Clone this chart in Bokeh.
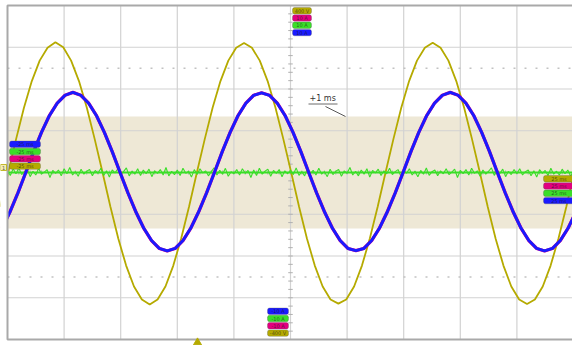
import numpy as np
from bokeh.plotting import figure
from bokeh.models import Range1d
from bokeh.embed import file_html
from bokeh.resources import INLINE
from bokeh.core.properties import value

# ---- acquisition: 5 ms/div horizontally, readings in divisions vertically ----
MS_PER_DIV = 5.0
H_DIVS = 10
V_DIVS = 8
STEP_MS = 0.6944          # sample spacing of CH1/CH3/CH4 records

# CH1 (voltage), yellow
CH1_T0 = -25.63
CH1_DIV = [-0.82, 0.00, 0.80, 1.55, 2.19, 2.68, 2.99,
           3.12, 3.00, 2.68, 2.19, 1.55, 0.80, 0.00, -0.82, -1.58, -2.23, -2.73, -3.04,
           -3.16, -3.04, -2.73, -2.23, -1.58, -0.82, 0.00, 0.80, 1.55, 2.19, 2.68, 2.99,
           3.10, 2.99, 2.68, 2.19, 1.55, 0.80, 0.00, -0.82, -1.58, -2.23, -2.73, -3.04,
           -3.14, -3.04, -2.73, -2.23, -1.58, -0.82, 0.00, 0.80, 1.55, 2.19, 2.68, 2.99,
           3.11, 2.99, 2.68, 2.19, 1.55, 0.80, 0.00, -0.82, -1.58, -2.23, -2.73, -3.04,
           -3.15, -3.04, -2.73, -2.23, -1.58, -0.82, 0.00]

# CH4 (current), blue; CH3 (magenta) sits under it
CH4_T0 = -25.47
CH4_DIV = [-1.33, -0.94, -0.49, 0.00, 0.50, 0.96, 1.36, 1.66, 1.85,
           1.92, 1.85, 1.66, 1.36, 0.96, 0.50, 0.00, -0.49, -0.94, -1.33, -1.63, -1.82,
           -1.88, -1.82, -1.63, -1.33, -0.94, -0.49, 0.00, 0.50, 0.96, 1.36, 1.66, 1.85,
           1.91, 1.85, 1.66, 1.36, 0.96, 0.50, 0.00, -0.49, -0.94, -1.33, -1.63, -1.82,
           -1.87, -1.82, -1.63, -1.33, -0.94, -0.49, 0.00, 0.50, 0.96, 1.36, 1.66, 1.85,
           1.92, 1.85, 1.66, 1.36, 0.96, 0.50, 0.00, -0.49, -0.94, -1.33, -1.63, -1.82,
           -1.88, -1.82, -1.63, -1.33, -0.94]
CH3_DIV = CH4_DIV

# CH2 (green), flat noisy record
CH2_T0 = -25.0
CH2_STEP = 0.25
CH2_DIV = [0.04, -0.07, 0.09, -0.03, 0.11, -0.05, 0.02, 0.08, -0.10, 0.03,
           -0.06, 0.10, -0.04, 0.01, 0.07, -0.12, 0.05, -0.02, 0.06, -0.08,
           0.09, -0.03, 0.12, -0.06, 0.02, -0.09, 0.08, -0.04, 0.03, 0.07,
           -0.08, 0.05, -0.02, 0.10, -0.07, 0.04, -0.11, 0.06, -0.01, 0.09,
           -0.05, 0.02, 0.11, -0.08, 0.03, -0.04, 0.09, -0.07, 0.06, -0.03,
           0.08, -0.10, 0.04, -0.02, 0.07, -0.06, 0.12, -0.08, 0.03, -0.05,
           0.06, -0.07, 0.10, -0.02, 0.03, -0.11, 0.07, -0.05, 0.09, -0.01,
           0.04, -0.08, 0.02, 0.11, -0.06, 0.05, -0.04, 0.10, -0.09, 0.02,
           -0.03, 0.07, -0.06, 0.09, -0.02, 0.05, -0.12, 0.06, -0.07, 0.10,
           -0.04, 0.03, 0.08, -0.09, 0.05, -0.02, 0.07, -0.10, 0.04, -0.03,
           0.06, -0.05, 0.11, -0.07, 0.02, -0.08, 0.09, -0.03, 0.05, -0.06,
           0.10, -0.04, 0.02, -0.10, 0.08, -0.05, 0.03, 0.07, -0.09, 0.04,
           -0.02, 0.12, -0.06, 0.03, -0.08, 0.06, -0.04, 0.09, -0.11, 0.05,
           -0.01, 0.08, -0.07, 0.04, -0.03, 0.10, -0.05, 0.02, 0.07, -0.09,
           0.06, -0.02, 0.09, -0.06, 0.03, -0.10, 0.05, -0.04, 0.11, -0.07,
           0.02, 0.06, -0.08, 0.04, -0.03, 0.09, -0.05, 0.01, 0.08, -0.12,
           0.05, -0.03, 0.07, -0.06, 0.10, -0.02, 0.04, -0.09, 0.06, -0.04,
           0.03, 0.11, -0.07, 0.05, -0.02, 0.08, -0.10, 0.03, -0.05, 0.07,
           -0.03, 0.09, -0.06, 0.02, 0.06, -0.08, 0.04, -0.11, 0.07, -0.02,
           0.05, -0.07, 0.10, -0.04, 0.03, -0.06, 0.08, -0.03, 0.06, -0.09,
           0.04]

BAND_DIV = 1.34           # shaded window around the baseline
DOTTED_DIV = 2.5          # dotted reference levels

TOP_TAGS = ["400 V", "10 A", "10 A", "10 A"]
BOTTOM_TAGS = ["-10 A", "-10 A", "-10 A", "-400 V"]
LEFT_TAGS = ["-25 ms", "-25 ms", "-25 ms", "-25 ms"]
RIGHT_TAGS = ["25 ms", "25 ms", "25 ms", "25 ms"]
CURSOR_TEXT = "+1 ms"

YELLOW = "#b5aa00"
MAGENTA = "#e2007f"
GREEN = "#3ade28"
BLUE = "#1a1aff"
GRID = "#d2d2d2"
BORDER = "#a9a9a9"
BAND = "#eee8d6"

# ---- screen geometry (pixels) ----
W, H = 572, 345
X_ZERO_PX, PX_PER_MS = 290.0, 11.32
Y_ZERO_PX, PX_PER_DIV = 172.0, 41.75


def t_of(px):
    return (px - X_ZERO_PX) / PX_PER_MS


def v_of(py):
    return (Y_ZERO_PX - py) / PX_PER_DIV


T_MIN, T_MAX = -H_DIVS / 2 * MS_PER_DIV, H_DIVS / 2 * MS_PER_DIV
V_MIN, V_MAX = -V_DIVS / 2, V_DIVS / 2

p = figure(width=W, height=H, x_range=Range1d(t_of(0), t_of(W)),
           y_range=Range1d(v_of(H), v_of(0)), output_backend="svg",
           toolbar_location=None, x_axis_location=None, y_axis_location=None,
           min_border=0, outline_line_color=None, background_fill_color="white",
           border_fill_color="white")
p.grid.visible = False

# shaded window
p.quad(left=T_MIN, right=T_MAX, bottom=-BAND_DIV, top=BAND_DIV,
       fill_color=BAND, line_color=None)

# graticule
vt = np.arange(T_MIN + MS_PER_DIV, T_MAX, MS_PER_DIV)
p.segment(x0=vt, x1=vt, y0=V_MIN, y1=V_MAX, line_color=GRID, line_width=1.2)
hv = np.arange(V_MIN + 1, V_MAX, 1.0)
p.segment(x0=T_MIN, x1=T_MAX, y0=hv, y1=hv, line_color=GRID, line_width=1.2)

for lvl in (DOTTED_DIV, -DOTTED_DIV):
    p.line([T_MIN, T_MAX], [lvl, lvl], line_color="#c2c2c2", line_width=1.5,
           line_dash="2 9")

# minor ticks on the centre axes
mv = np.arange(V_MIN, V_MAX + 0.01, 0.2)
p.segment(x0=-0.2, x1=0.2, y0=mv, y1=mv, line_color="#b0b0b0", line_width=1)
mt = np.arange(T_MIN, T_MAX + 0.01, 1.0)
p.segment(x0=mt, x1=mt, y0=-0.05, y1=0.05, line_color="#b0b0b0", line_width=1)

# traces
t1 = CH1_T0 + STEP_MS * np.arange(len(CH1_DIV))
t4 = CH4_T0 + STEP_MS * np.arange(len(CH4_DIV))
t2 = CH2_T0 + CH2_STEP * np.arange(len(CH2_DIV))

p.line(t1, CH1_DIV, line_color=YELLOW, line_width=1.8)
p.line(t2, np.zeros(len(t2)), line_color=GREEN, line_width=2.2)
p.line(t2, CH2_DIV, line_color=GREEN, line_width=1.1)
p.line(t4, CH3_DIV, line_color=MAGENTA, line_width=3.3)
p.line(t4, CH4_DIV, line_color=BLUE, line_width=2.9)

# blank the area outside the graticule
p.quad(left=t_of(-20), right=T_MIN, bottom=v_of(H + 20), top=v_of(-20),
       fill_color="white", line_color=None)
p.quad(left=t_of(-20), right=t_of(W + 20), bottom=V_MAX, top=v_of(-20),
       fill_color="white", line_color=None)
p.quad(left=t_of(-20), right=t_of(W + 20), bottom=v_of(H + 20), top=V_MIN,
       fill_color="white", line_color=None)

# graticule border
p.quad(left=T_MIN, right=T_MAX, bottom=V_MIN, top=V_MAX, fill_color=None,
       line_color=BORDER, line_width=2)


def tag_stack(x0, x1, y_top, texts, colors, pitch=7.3, h=6.4):
    lefts, rights, tops, bottoms = [], [], [], []
    for i in range(len(texts)):
        yt = y_top + i * pitch
        lefts.append(t_of(x0))
        rights.append(t_of(x1))
        tops.append(v_of(yt))
        bottoms.append(v_of(yt + h))
    p.quad(left=lefts, right=rights, top=tops, bottom=bottoms, fill_color=colors,
           line_color="#555555", line_alpha=0.5, line_width=0.6, border_radius=2)
    xs = [(a + b) / 2 for a, b in zip(lefts, rights)]
    ys = [(a + b) / 2 for a, b in zip(tops, bottoms)]
    p.text(x=xs, y=ys, text=texts, text_align="center", text_baseline="middle",
           text_font=value("DejaVu Sans"), text_font_size="5px",
           text_color="#1a1a1a", text_alpha=0.7)


tag_stack(292, 311, 7, TOP_TAGS, [YELLOW, MAGENTA, GREEN, BLUE])
tag_stack(267, 288, 307.5, BOTTOM_TAGS, [BLUE, GREEN, MAGENTA, YELLOW])
tag_stack(9, 40, 140.5, LEFT_TAGS, [BLUE, GREEN, MAGENTA, YELLOW])
tag_stack(543, 574, 175, RIGHT_TAGS, [YELLOW, MAGENTA, GREEN, BLUE])

# channel 1 ground marker
p.quad(left=t_of(0), right=t_of(6), top=v_of(164), bottom=v_of(170),
       fill_color="#f4eeb0", line_color=YELLOW, line_width=0.8)
p.text(x=[t_of(3)], y=[v_of(167)], text=["1"], text_align="center",
       text_baseline="middle", text_font=value("DejaVu Sans"),
       text_font_size="5px", text_color="#555555")

# trigger position marker
p.scatter(x=[t_of(197)], y=[v_of(342)], marker="triangle", size=8,
          fill_color=YELLOW, line_color=YELLOW)

# cursor readout
p.text(x=[t_of(309)], y=[v_of(102)], text=[CURSOR_TEXT], text_align="left",
       text_baseline="bottom", text_font=value("DejaVu Sans"),
       text_font_size="8px", text_color="#333333")
p.line([t_of(308), t_of(337)], [v_of(103.5), v_of(103.5)], line_color="#444444",
       line_width=0.8)
p.line([t_of(325), t_of(345)], [v_of(106), v_of(116)], line_color="#444444",
       line_width=0.9)

open("out.html", "w").write(file_html(p, INLINE))
